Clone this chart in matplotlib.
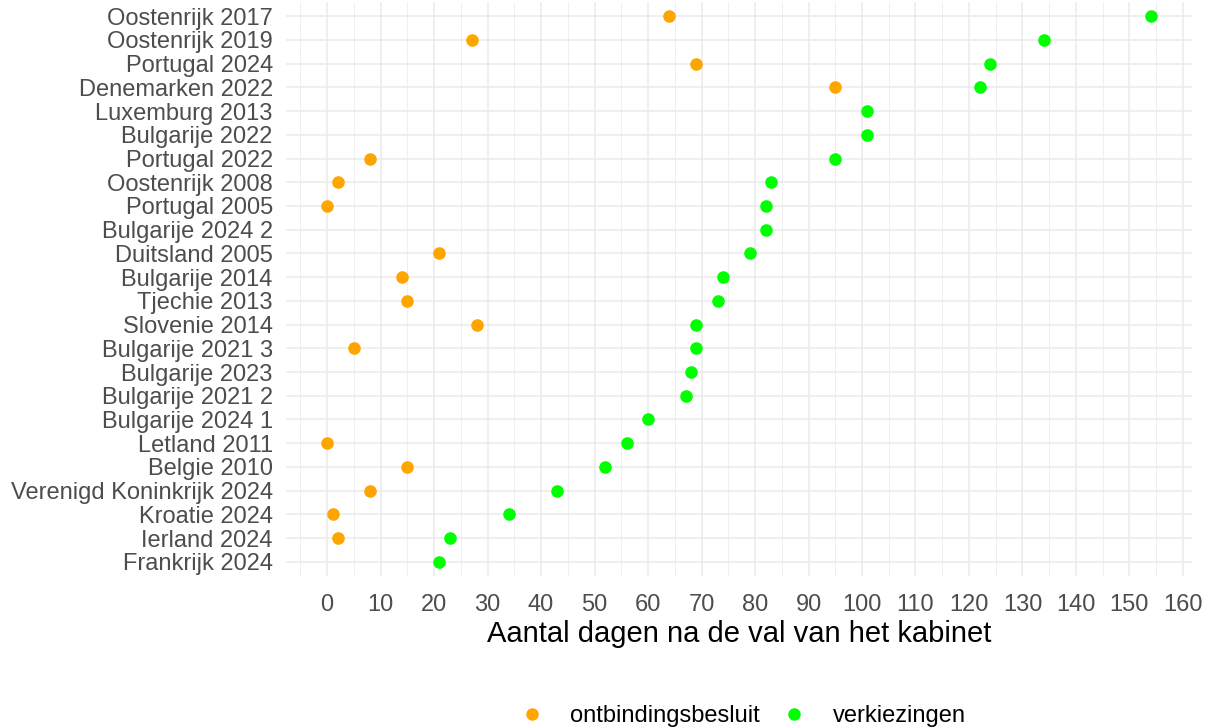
import matplotlib
matplotlib.use("Agg")
import matplotlib.pyplot as plt
from matplotlib.ticker import MultipleLocator
from matplotlib.lines import Line2D
import numpy as np

plt.rcParams['font.family'] = ['Liberation Sans', 'DejaVu Sans']

# Categories from top to bottom
categories = [
    "Oostenrijk 2017", "Oostenrijk 2019", "Portugal 2024", "Denemarken 2022",
    "Luxemburg 2013", "Bulgarije 2022", "Portugal 2022", "Oostenrijk 2008",
    "Portugal 2005", "Bulgarije 2024 2", "Duitsland 2005", "Bulgarije 2014",
    "Tjechie 2013", "Slovenie 2014", "Bulgarije 2021 3", "Bulgarije 2023",
    "Bulgarije 2021 2", "Bulgarije 2024 1", "Letland 2011", "Belgie 2010",
    "Verenigd Koninkrijk 2024", "Kroatie 2024", "Ierland 2024", "Frankrijk 2024",
]
# ontbindingsbesluit (None = missing)
ontbinding = [64, 27, 69, 95, None, None, 8, 2, 0, None, 21, 14, 15, 28, 5,
              None, None, None, 0, 15, 8, 1, 2, None]
# verkiezingen
verkiezingen = [154, 134, 124, 122, 101, 101, 95, 83, 82, 82, 79, 74, 73, 69,
                69, 68, 67, 60, 56, 52, 43, 34, 23, 21]

series_names = ["ontbindingsbesluit", "verkiezingen"]
colors = ["#FFA500", "#00FF00"]

fig = plt.figure(figsize=(12.13, 7.28), dpi=100)
ax = fig.add_axes([286/1213, 1 - 576/728, (1192-286)/1213, (576-2)/728])

n = len(categories)
ypos = np.arange(n)[::-1]

for vals, col in zip([ontbinding, verkiezingen], colors):
    xs = [v for v in vals if v is not None]
    ys = [y for v, y in zip(vals, ypos) if v is not None]
    ax.scatter(xs, ys, s=82, color=col, zorder=3, linewidths=0)

allv = [v for v in ontbinding + verkiezingen if v is not None]
lo, hi = min(allv), max(allv)
ex = (hi - lo) * 0.05
ax.set_xlim(lo - ex, hi + ex)
ax.set_ylim(-0.6, n - 1 + 0.6)

ax.set_yticks(ypos)
ax.set_yticklabels(categories)
ax.xaxis.set_major_locator(MultipleLocator(10))
ax.xaxis.set_minor_locator(MultipleLocator(5))

ax.grid(True, which='major', axis='both', color='#EBEBEB', linewidth=1.1, zorder=0)
ax.grid(True, which='minor', axis='x', color='#EBEBEB', linewidth=0.55, zorder=0)
ax.set_axisbelow(True)
for sp in ax.spines.values():
    sp.set_visible(False)

ax.tick_params(axis='both', which='both', length=0, labelsize=17, labelcolor='#4D4D4D')
ax.tick_params(axis='y', pad=9.5)
ax.tick_params(axis='x', pad=13)

ax.set_xlabel("Aantal dagen na de val van het kabinet", fontsize=21, color='black', labelpad=3)

handles = [Line2D([0], [0], marker='o', linestyle='', markersize=9, markerfacecolor=c,
                  markeredgewidth=0) for c in colors]
fig.legend(handles, series_names, loc='center', bbox_to_anchor=(740/1213, 1 - 716/728),
           ncol=2, frameon=False, fontsize=17, handletextpad=0.87, columnspacing=0.7,
           handlelength=1.5, borderpad=0, borderaxespad=0)

fig.savefig("out.png", dpi=100)
